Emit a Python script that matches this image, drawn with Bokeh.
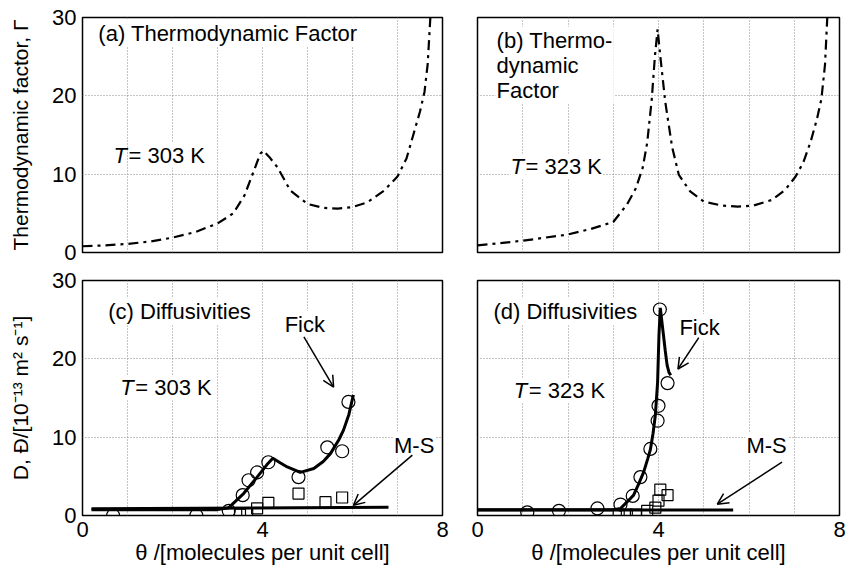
from bokeh.plotting import figure
from bokeh.layouts import column, row
from bokeh.models import Range1d, FixedTicker, Label, Arrow, OpenHead
from bokeh.embed import file_html
from bokeh.resources import INLINE

# ---------------- data ----------------
# (a) thermodynamic factor, T = 303 K
theta_a = [0.0, 0.5, 1.0, 1.5, 2.0, 2.5, 3.0, 3.35, 3.6, 3.8, 3.95, 4.02, 4.15, 4.33,
           4.62, 5.0, 5.35, 5.67, 6.0, 6.33, 6.7, 7.0, 7.2, 7.36, 7.5, 7.6, 7.67, 7.73]
gamma_a = [0.8, 0.9, 1.1, 1.4, 1.9, 2.6, 3.7, 5.0, 7.3, 10.3, 12.6, 13.0, 12.2, 10.9,
           7.9, 6.2, 5.7, 5.6, 5.8, 6.4, 7.9, 9.7, 12.0, 15.2, 18.0, 20.5, 24.0, 30.0]

# (b) thermodynamic factor, T = 323 K
theta_b = [0.0, 0.5, 1.0, 1.5, 2.0, 2.5, 3.0, 3.3, 3.5, 3.65, 3.75, 3.85, 3.92, 3.98,
           4.05, 4.15, 4.3, 4.45, 4.7, 5.0, 5.4, 5.75, 6.1, 6.5, 6.8, 7.03, 7.2, 7.36,
           7.5, 7.6, 7.68, 7.73]
gamma_b = [0.9, 1.2, 1.5, 1.9, 2.3, 3.0, 3.9, 6.1, 8.2, 10.8, 14.0, 19.5, 25.0, 28.5,
           24.5, 19.2, 13.5, 9.9, 7.8, 6.5, 6.0, 5.85, 6.0, 6.7, 8.0, 9.7, 11.5, 14.1,
           17.0, 19.6, 24.0, 30.0]

# (c) diffusivities, T = 303 K
theta_c_fick = [0.2, 1.0, 2.0, 3.0, 3.25, 3.58, 3.88, 4.1, 4.23, 4.4, 4.55, 4.84, 5.14,
                5.35, 5.51, 5.7, 5.8, 5.92, 6.02]
d_c_fick = [0.75, 0.75, 0.75, 0.75, 1.0, 2.8, 4.9, 6.5, 7.3, 6.7, 6.2, 5.5, 6.0,
            6.9, 7.9, 9.7, 10.9, 12.9, 15.4]
theta_c_ms = [0.2, 6.8]
d_c_ms = [0.85, 1.05]
theta_c_circ = [0.68, 2.53, 3.25, 3.56, 3.69, 3.88, 4.13, 4.8, 5.44, 5.77, 5.91]
d_c_circ = [0.0, 0.0, 0.6, 2.6, 4.5, 5.5, 6.8, 4.9, 8.7, 8.2, 14.5]
theta_c_sq = [3.5, 3.66, 3.88, 4.13, 4.8, 5.4, 5.77]
d_c_sq = [0.1, 0.3, 0.9, 1.6, 2.8, 1.7, 2.3]

# (d) diffusivities, T = 323 K
theta_d_fick = [0.0, 1.0, 2.0, 3.0, 3.16, 3.3, 3.45, 3.56, 3.67, 3.76, 3.82, 3.88, 3.93,
                3.98, 4.01, 4.04, 4.1, 4.15, 4.19, 4.23, 4.27]
d_d_fick = [0.75, 0.75, 0.75, 0.75, 0.9, 1.7, 2.6, 4.0, 5.5, 7.2, 8.4, 10.5, 12.8,
            17.0, 23.0, 26.5, 23.5, 21.0, 19.2, 18.3, 17.9]
theta_d_ms = [0.0, 5.65]
d_d_ms = [0.7, 0.7]
theta_d_circ = [1.1, 1.8, 2.65, 3.16, 3.43, 3.6, 3.82, 3.98, 4.0, 4.03, 4.2]
d_d_circ = [0.4, 0.6, 0.9, 1.4, 2.5, 4.9, 8.5, 12.1, 14.0, 26.3, 16.9]
theta_d_sq = [3.12, 3.3, 3.5, 3.75, 3.93, 4.0, 4.04, 4.2]
d_d_sq = [0.1, 0.1, 0.1, 0.6, 1.0, 1.9, 3.3, 2.6]

x_ticks = [0, 4, 8]
y_ticks = [0, 10, 20, 30]
x_grid = [1, 2, 3, 4, 5, 6, 7]
y_grid = [10, 20]

FONT = "Liberation Sans"


def base_fig(width, height, left, right, top, bottom, show_y, show_x):
    p = figure(width=width, height=height, x_range=Range1d(0, 8), y_range=Range1d(0, 30),
               output_backend="svg", toolbar_location=None,
               min_border_left=left, min_border_right=right,
               min_border_top=top, min_border_bottom=bottom)
    p.background_fill_color = "white"
    p.border_fill_color = "white"
    p.outline_line_color = "black"
    p.outline_line_width = 1.5
    p.xgrid.ticker = FixedTicker(ticks=x_grid)
    p.ygrid.ticker = FixedTicker(ticks=y_grid)
    for g in (p.xgrid[0], p.ygrid[0]):
        g.grid_line_color = "#8a8a8a"
        g.grid_line_dash = "1 2"
        g.grid_line_width = 1
    p.xaxis.ticker = FixedTicker(ticks=x_ticks)
    p.yaxis.ticker = FixedTicker(ticks=y_ticks)
    for ax in (p.xaxis[0], p.yaxis[0]):
        ax.axis_line_color = None
        ax.major_tick_line_color = None
        ax.minor_tick_line_color = None
        ax.major_tick_out = 0
        ax.major_tick_in = 0
        ax.major_label_text_font = FONT
        ax.major_label_text_font_size = "22px"
        ax.major_label_text_color = "black"
        ax.axis_label_text_font = FONT
        ax.axis_label_text_font_size = "21px"
        ax.axis_label_text_font_style = "normal"
        ax.axis_label_text_color = "black"
    p.xaxis.visible = show_x
    p.yaxis.visible = show_y
    return p


def add_text(p, x, y, text, size="22px", style="normal", xoff=0, pad=1, lh=1.2):
    p.add_layout(Label(x=x, y=y, text=text, x_offset=xoff, text_font=FONT,
                       text_font_size=size, text_font_style=style,
                       text_baseline="middle", text_align="left", text_color="black",
                       text_line_height=lh,
                       background_fill_color="white", padding=pad))


def add_temp(p, x, y, temp):
    add_text(p, x, y, "= %s K" % temp, xoff=15, pad=0)
    add_text(p, x, y, "T", style="italic", pad=0)


def add_arrow(p, x0, y0, x1, y1):
    p.add_layout(Arrow(end=OpenHead(size=11, line_width=1.5, line_color="black"),
                       x_start=x0, y_start=y0, x_end=x1, y_end=y1,
                       line_width=1.5, line_color="black"))


DASHDOT = "10 5 3 5"

# (a)
pa = base_fig(460, 266, 82, 18, 17, 14, True, False)
pa.yaxis.axis_label = "Thermodynamic factor, Γ"
pa.yaxis.major_label_standoff = 6
pa.yaxis.axis_label_standoff = 17
pa.line(theta_a, gamma_a, line_color="black", line_width=2.2, line_dash=DASHDOT)
add_text(pa, 0.33, 28.0, "(a) Thermodynamic Factor")
add_temp(pa, 0.69, 12.4, "303")

# (b)
pb = base_fig(388, 266, 17, 9, 17, 14, False, False)
pb.line(theta_b, gamma_b, line_color="black", line_width=2.2, line_dash=DASHDOT)
add_text(pb, 0.4, 23.9, "(b) Thermo-\ndynamic\nFactor", lh=1.0)
add_temp(pb, 0.73, 11.0, "323")

# (c)
pc = base_fig(460, 304, 82, 18, 14, 55, True, True)
pc.yaxis.axis_label = "D, Đ/[10⁻¹³ m² s⁻¹]"
pc.xaxis.axis_label = "θ /[molecules per unit cell]"
pc.xaxis.axis_label_text_font_size = "22px"
pc.yaxis.major_label_standoff = 6
pc.yaxis.axis_label_standoff = 17
pc.xaxis.major_label_standoff = 6
pc.xaxis.axis_label_standoff = 0
pc.line(theta_c_ms, d_c_ms, line_color="black", line_width=3)
pc.line(theta_c_fick, d_c_fick, line_color="black", line_width=3)
pc.scatter(theta_c_circ, d_c_circ, marker="circle", size=13, fill_color=None,
           line_color="black", line_width=1.2)
pc.scatter(theta_c_sq, d_c_sq, marker="square", size=11, fill_color=None,
           line_color="black", line_width=1.2)
add_text(pc, 0.55, 26.0, "(c) Diffusivities")
add_temp(pc, 0.84, 16.3, "303")
add_text(pc, 4.47, 24.4, "Fick")
add_text(pc, 6.9, 9.0, "M-S")
add_arrow(pc, 4.92, 22.8, 5.58, 16.4)
add_arrow(pc, 7.33, 7.7, 6.02, 1.3)

# (d)
pd = base_fig(388, 304, 17, 9, 14, 55, False, True)
pd.xaxis.axis_label = "θ /[molecules per unit cell]"
pd.xaxis.axis_label_text_font_size = "22px"
pd.xaxis.major_label_standoff = 6
pd.xaxis.axis_label_standoff = 0
pd.line(theta_d_ms, d_d_ms, line_color="black", line_width=3)
pd.line(theta_d_fick, d_d_fick, line_color="black", line_width=3)
pd.scatter(theta_d_circ, d_d_circ, marker="circle", size=13, fill_color=None,
           line_color="black", line_width=1.2)
pd.scatter(theta_d_sq, d_d_sq, marker="square", size=11, fill_color=None,
           line_color="black", line_width=1.2)
add_text(pd, 0.33, 26.0, "(d) Diffusivities")
add_temp(pd, 0.8, 16.0, "323")
add_text(pd, 4.44, 24.0, "Fick")
add_text(pd, 5.92, 8.9, "M-S")
add_arrow(pd, 4.89, 22.7, 4.43, 18.7)
add_arrow(pd, 6.73, 6.8, 5.3, 1.45)

layout = column(row(pa, pb), row(pc, pd))
open("out.html", "w").write(file_html(layout, INLINE))
